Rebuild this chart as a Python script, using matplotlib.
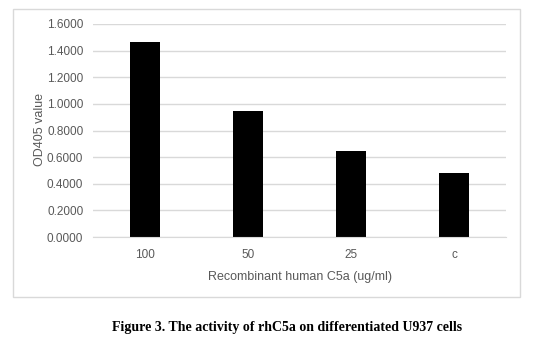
import matplotlib
matplotlib.use("Agg")
import matplotlib.pyplot as plt
from matplotlib.patches import Rectangle

# data
categories = ["100", "50", "25", "c"]
od_values = [1.465, 0.947, 0.646, 0.481]
y_ticks = [0.0, 0.2, 0.4, 0.6, 0.8, 1.0, 1.2, 1.4, 1.6]

plt.rcParams["font.family"] = ["Liberation Sans", "DejaVu Sans"]

W, H = 548, 347
fig = plt.figure(figsize=(W / 100, H / 100), dpi=100)
fig.patch.set_facecolor("white")

# chart border box
fig.patches.append(Rectangle((13 / W, 1 - 297 / H), (520 - 13) / W, (297 - 9) / H,
                             transform=fig.transFigure, fill=False,
                             edgecolor="#d9d9d9", linewidth=1.0))

ax = fig.add_axes([93 / W, 1 - 237 / H, (506 - 93) / W, (237 - 24) / H])
x = range(len(categories))
ax.bar(x, od_values, width=0.29, color="black", zorder=3)

ax.set_xlim(-0.5, len(categories) - 0.5)
ax.set_ylim(0, 1.6)
ax.set_yticks(y_ticks)
ax.set_yticklabels(["%.4f" % v for v in y_ticks])
ax.set_xticks(list(x))
ax.set_xticklabels(categories)

ax.grid(axis="y", color="#d9d9d9", linewidth=1.0, zorder=0)
for side in ["top", "right", "left"]:
    ax.spines[side].set_visible(False)
ax.spines["bottom"].set_color("#d9d9d9")
ax.spines["bottom"].set_zorder(4)
ax.tick_params(axis="both", length=0, labelsize=8.5, labelcolor="#595959")
ax.tick_params(axis="y", pad=7)
ax.tick_params(axis="x", pad=9)

ax.set_xlabel("Recombinant human C5a (ug/ml)", fontsize=9, color="#595959", labelpad=7)
fig.text(40 / W, 1 - 130 / H, "OD405 value", rotation=90, ha="center", va="center",
         fontsize=9, color="#595959")

fig.text(0.5 * (112 + 463) / W, 1 - 328 / H,
         "Figure 3. The activity of rhC5a on differentiated U937 cells",
         ha="center", va="center", fontsize=10, fontweight="bold",
         family="Liberation Serif")

fig.savefig("out.png", dpi=100)
